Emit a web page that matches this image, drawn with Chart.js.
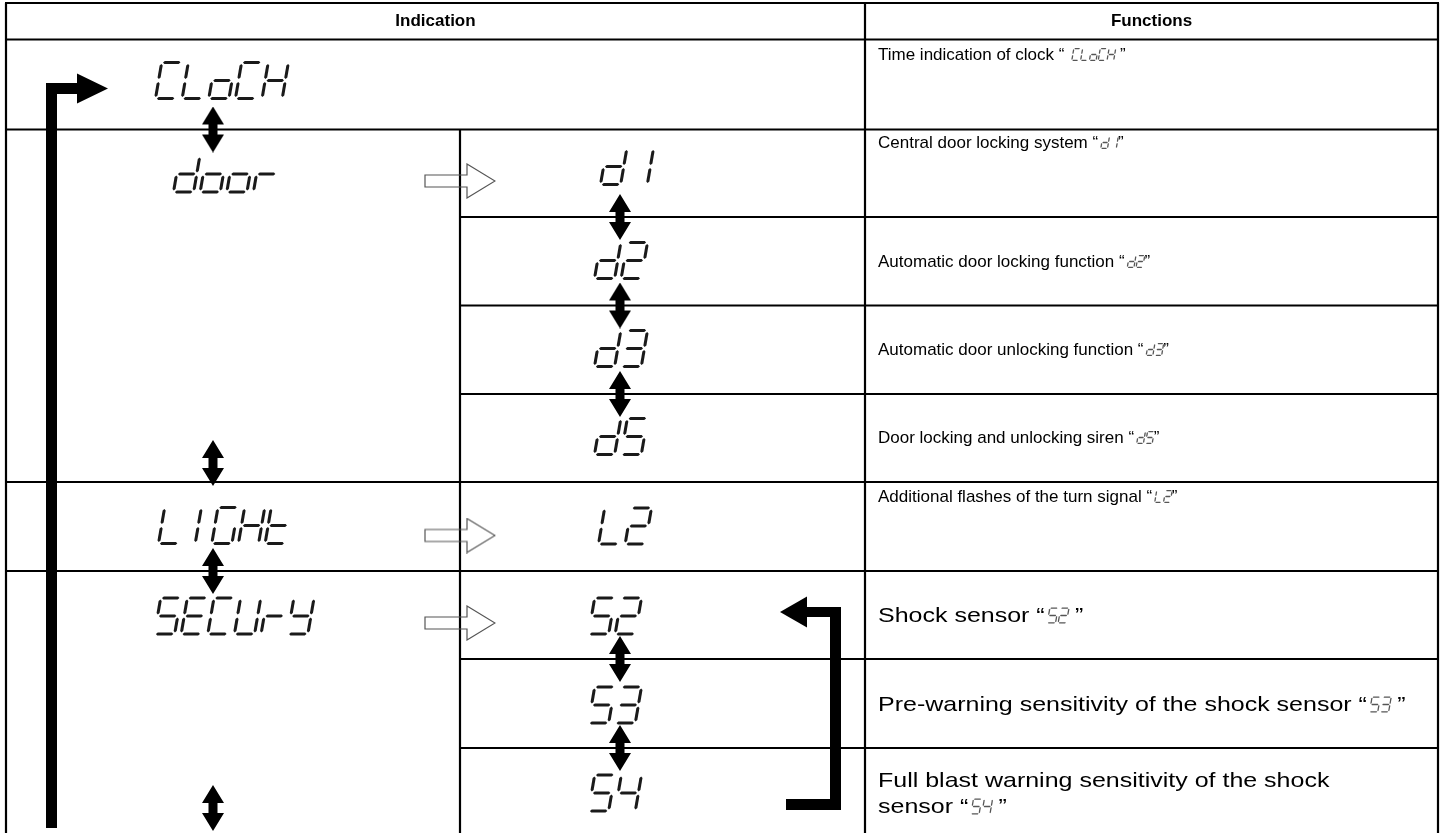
<!DOCTYPE html>
<html>
<head>
<meta charset="utf-8">
<title>Indication / Functions</title>
<script src="https://cdn.jsdelivr.net/npm/chart.js@4/dist/chart.umd.min.js"></script>
<style>
    html, body { margin: 0; padding: 0; background: #fff; }
    #wrap { position: relative; width: 1444px; height: 833px; }
</style>
</head>
<body>
<div id="wrap"><canvas id="board"></canvas></div>
<script>
// --------------------------------- Table content ---------------------------------
const headers = ["Indication", "Functions"];
const indications = ["CLoCH", "door", "LIGHt", "SECUrY"];
const subCodes = ["d1", "d2", "d3", "d5", "L2", "S2", "S3", "S4"];
// function texts: text before code, display code, text after code
const funcBefore = [
    "Time indication of clock \u201C ",
    "Central door locking system \u201C",
    "Automatic door locking function \u201C",
    "Automatic door unlocking function \u201C",
    "Door locking and unlocking siren \u201C",
    "Additional flashes of the turn signal \u201C",
    "Shock sensor \u201C",
    "Pre-warning sensitivity of the shock sensor \u201C",
    "Full blast warning sensitivity of the shock\nsensor \u201C",
];
const funcCode = ["CLoCH", "d1", "d2", "d3", "d5", "L2", "S2", "S3", "S4"];
const funcAfter = [" \u201D", "\u201D", "\u201D", "\u201D", "\u201D", "\u201D", " \u201D", " \u201D", " \u201D"];

// --------------------------------- Layout (pixels of the 1444 x 833 board) ---------------------------------
const BOARD_W = 1444, BOARD_H = 833;
const TABLE_L = 6, TABLE_R = 1438, TABLE_T = 3, HEAD_B = 39.5;
const COL_MID = 460, COL_FUNC = 865;
const rowEdges = [129.5, 217, 305.5, 394, 482, 571, 659, 748];
const rowEdgeFull = [true, false, false, false, true, true, false, false];
const indicationPos = [[154, 80.5], [172, 174], [157, 525.5], [153, 616]];
const subCodePos = [[599, 166.5], [593, 260.5], [593, 348.5], [593, 436.5], [597, 526], [587, 616], [587, 705], [587, 793]];
const funcX = 878;
const funcY = [55, 143, 262, 350, 438, 497, 616, 705, 781];
const funcFont = [17, 17, 17, 17, 17, 17, 21, 21, 21];
const funcStretch = [1, 1, 1, 1, 1, 1, 1.19, 1.19, 1.19];
const funcLineGap = 26;
const doubleArrowSpots = [[213, 129.5], [213, 463], [213, 571], [213, 808],
    [620, 217], [620, 305.5], [620, 394], [620, 659], [620, 748]];
const hollowArrowSpots = [[460, 181], [460, 535.5], [460, 623]];

// --------------------------------- Seven segment glyphs ---------------------------------
// p / q are the centre column, used for the narrow "I"
const SEGMENTS = {
    C: "adef", L: "def", o: "cdeg", H: "bcefg", d: "bcdeg", r: "eg",
    I: "pq", 1: "bc", G: "acdef", h: "cefg", t: "defg", S: "acdfg", 5: "acdfg",
    E: "adefg", U: "bcdef", Y: "bcdfg", 2: "abdeg", 3: "abcdg", 4: "bcfg", " ": "",
};

function drawSevenSeg(ctx, text, x0, yCenter, size, color) {
    const H = size;
    const w = 0.56 * H;
    const pitch = 0.74 * H;
    const t = Math.max(1.3, H * 0.085);
    const gap = t * 0.45;
    const slant = 0.17;
    const hh = H / 2;
    const horiz = (x1, x2, y) => {
        const a = x1 + gap, b = x2 - gap;
        return [[a, y], [a + t / 2, y - t / 2], [b - t / 2, y - t / 2], [b, y], [b - t / 2, y + t / 2], [a + t / 2, y + t / 2]];
    };
    const vert = (x, y1, y2) => {
        const a = y1 + gap, b = y2 - gap;
        return [[x, a], [x + t / 2, a + t / 2], [x + t / 2, b - t / 2], [x, b], [x - t / 2, b - t / 2], [x - t / 2, a + t / 2]];
    };
    const shapes = {
        a: horiz(0, w, -H), g: horiz(0, w, -hh), d: horiz(0, w, 0),
        f: vert(0, -H, -hh), e: vert(0, -hh, 0),
        b: vert(w, -H, -hh), c: vert(w, -hh, 0),
        p: vert(w / 2, -H, -hh), q: vert(w / 2, -hh, 0),
    };
    ctx.save();
    ctx.fillStyle = color;
    ctx.translate(x0 + t / 2, yCenter + hh);
    ctx.transform(1, 0, -slant, 1, 0, 0);
    [...text].forEach((ch, i) => {
        const segs = SEGMENTS[ch] || "";
        for (const s of segs) {
            const pts = shapes[s];
            ctx.beginPath();
            pts.forEach(([px, py], k) => {
                if (k === 0) ctx.moveTo(px + i * pitch, py);
                else ctx.lineTo(px + i * pitch, py);
            });
            ctx.closePath();
            ctx.fill();
        }
    });
    ctx.restore();
    return text.length * pitch - (pitch - w) + t;
}

// --------------------------------- Point style pictures ---------------------------------
function makeDoubleArrow() {
    const c = document.createElement("canvas");
    c.width = 22; c.height = 46;
    const g = c.getContext("2d");
    g.fillStyle = "#000";
    g.beginPath();
    g.moveTo(11, 0); g.lineTo(22, 18); g.lineTo(15.5, 18); g.lineTo(15.5, 28);
    g.lineTo(22, 28); g.lineTo(11, 46); g.lineTo(0, 28); g.lineTo(6.5, 28);
    g.lineTo(6.5, 18); g.lineTo(0, 18);
    g.closePath();
    g.fill();
    return c;
}

function makeHollowArrow() {
    const c = document.createElement("canvas");
    c.width = 72; c.height = 36;
    const g = c.getContext("2d");
    g.strokeStyle = "#555";
    g.lineWidth = 1.2;
    g.beginPath();
    g.moveTo(1, 12); g.lineTo(43, 12); g.lineTo(43, 1); g.lineTo(71, 18);
    g.lineTo(43, 35); g.lineTo(43, 24); g.lineTo(1, 24);
    g.closePath();
    g.stroke();
    return c;
}

// --------------------------------- Plugin painting the table ---------------------------------
const tablePainter = {
    id: "tablePainter",
    beforeDatasetsDraw(chart) {
        const { ctx } = chart;
        const sx = chart.scales.x, sy = chart.scales.y;
        const X = (v) => sx.getPixelForValue(v);
        const Y = (v) => sy.getPixelForValue(v);

        ctx.save();
        ctx.fillStyle = "#fff";
        ctx.fillRect(0, 0, chart.width, chart.height);

        // Grid lines
        ctx.strokeStyle = "#000";
        ctx.lineWidth = 2.2;
        const line = (x1, y1, x2, y2) => {
            ctx.beginPath();
            ctx.moveTo(X(x1), Y(y1));
            ctx.lineTo(X(x2), Y(y2));
            ctx.stroke();
        };
        line(TABLE_L - 1, TABLE_T, TABLE_R + 1, TABLE_T);
        line(TABLE_L, HEAD_B, TABLE_R, HEAD_B);
        line(TABLE_L, TABLE_T, TABLE_L, BOARD_H);
        line(TABLE_R, TABLE_T, TABLE_R, BOARD_H);
        line(COL_FUNC, TABLE_T, COL_FUNC, BOARD_H);
        line(COL_MID, rowEdges[0], COL_MID, BOARD_H);
        rowEdges.forEach((r, i) => {
            line(rowEdgeFull[i] ? TABLE_L : COL_MID, r, TABLE_R, r);
        });

        // Headers
        ctx.fillStyle = "#000";
        ctx.font = "bold 17px 'Liberation Sans', Arial, sans-serif";
        ctx.textAlign = "center";
        ctx.textBaseline = "middle";
        ctx.fillText(headers[0], X((TABLE_L + COL_FUNC) / 2), Y(21.5));
        ctx.fillText(headers[1], X((COL_FUNC + TABLE_R) / 2), Y(21.5));

        // Big seven segment indications
        indications.forEach((txt, i) => {
            drawSevenSeg(ctx, txt, X(indicationPos[i][0]), Y(indicationPos[i][1]), 36, "#1a1a1a");
        });
        subCodes.forEach((txt, i) => {
            drawSevenSeg(ctx, txt, X(subCodePos[i][0]), Y(subCodePos[i][1]), 36, "#1a1a1a");
        });

        // Function descriptions with small display codes
        ctx.textAlign = "left";
        const stretchedText = (txt, x0, y0, k) => {
            ctx.save();
            ctx.translate(x0, y0);
            ctx.scale(k, 1);
            ctx.fillText(txt, 0, 0);
            ctx.restore();
            return ctx.measureText(txt).width * k;
        };
        funcBefore.forEach((txt, i) => {
            const fs = funcFont[i];
            const k = funcStretch[i];
            ctx.font = fs + "px 'Liberation Sans', Arial, sans-serif";
            const lines = txt.split("\n");
            let yy = funcY[i];
            let wLast = 0;
            lines.forEach((ln, n) => {
                if (n > 0) yy += funcLineGap;
                wLast = stretchedText(ln, X(funcX), Y(yy), k);
            });
            let xx = X(funcX) + wLast + 2;
            xx += drawSevenSeg(ctx, funcCode[i], xx, Y(yy) - 0.5, fs * 0.7, "#555") + 1;
            stretchedText(funcAfter[i], xx, Y(yy), k);
        });

        // Thick loop arrow on the left
        ctx.fillStyle = "#000";
        const rect = (x1, y1, x2, y2) => ctx.fillRect(X(x1), Y(y1), X(x2) - X(x1), Y(y2) - Y(y1));
        const tri = (pts) => {
            ctx.beginPath();
            pts.forEach(([a, b], k) => (k ? ctx.lineTo(X(a), Y(b)) : ctx.moveTo(X(a), Y(b))));
            ctx.closePath();
            ctx.fill();
        };
        rect(46, 83, 57, 828);
        rect(46, 83, 78, 94);
        tri([[77, 73.5], [108, 88.5], [77, 103.5]]);

        // Thick bracket arrow for the security group
        rect(830, 607, 841, 810);
        rect(806, 607, 841, 617);
        rect(786, 799, 841, 810);
        tri([[807, 596.5], [780, 612], [807, 627.5]]);
        ctx.restore();
    },
};

// --------------------------------- Chart ---------------------------------
const doubleArrowImg = makeDoubleArrow();
const hollowArrowImg = makeHollowArrow();

new Chart(document.getElementById("board"), {
    type: "scatter",
    data: {
        datasets: [
            {
                label: "double arrows",
                data: doubleArrowSpots.map(([x, y]) => ({ x, y })),
                pointStyle: doubleArrowImg,
                pointRadius: 5,
            },
            {
                label: "hollow arrows",
                data: hollowArrowSpots.map(([x, y]) => ({ x, y })),
                pointStyle: hollowArrowImg,
                pointRadius: 5,
            },
        ],
    },
    options: {
        responsive: true,
        maintainAspectRatio: false,
        animation: false,
        layout: { padding: 0, autoPadding: false },
        scales: {
            x: { type: "linear", min: 0, max: BOARD_W, display: false },
            y: { type: "linear", min: 0, max: BOARD_H, reverse: true, display: false },
        },
        plugins: {
            legend: { display: false },
            tooltip: { enabled: false },
        },
    },
    plugins: [tablePainter],
});
</script>
</body>
</html>
